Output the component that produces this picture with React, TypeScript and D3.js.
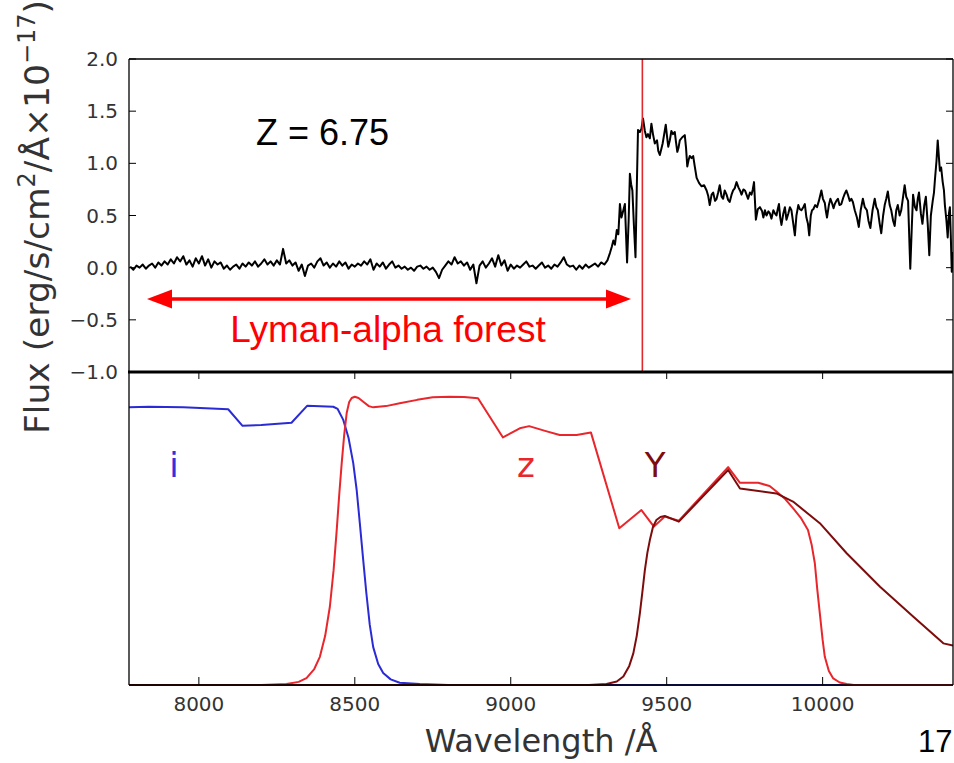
import React from "react";
import * as d3 from "d3";

// ---------- DATA ----------
const xDomain = [7776, 10418];
const fluxTicks = [2.0, 1.5, 1.0, 0.5, 0.0, -0.5, -1.0];
const waveTicks = [8000, 8500, 9000, 9500, 10000];

// Lyman-alpha forest region: regular grid from 7780 Å, 10 Å step
const forestStart = 7780;
const forestStep = 10;
const forestFlux = [
  0.01, -0.02, 0.02, 0.0, 0.03, -0.01, 0.02, 0.04, 0.0, 0.05,
  0.02, 0.06, 0.03, 0.08, 0.04, 0.1, 0.06, 0.11, 0.03, 0.07,
  0.01, 0.09, 0.04, 0.11, 0.02, 0.08, 0.0, 0.06, 0.03, 0.05,
  -0.01, 0.02, -0.02, 0.01, 0.03, -0.01, 0.04, 0.01, 0.05, 0.02,
  0.06, 0.01, 0.04, 0.08, 0.03, 0.06, 0.02, 0.07, 0.03, 0.18,
  0.04, 0.07, 0.02, 0.05, -0.03, 0.03, -0.08, 0.02, 0.04, 0.0,
  0.06, 0.09, 0.02, 0.05, 0.0, 0.04, 0.01, 0.06, 0.02, 0.05,
  -0.01, 0.03, 0.01, 0.04, 0.02, 0.06, 0.03, 0.08, -0.02, 0.04,
  0.01, 0.05, -0.01, 0.03, 0.06, 0.0, 0.02, -0.01, 0.01, -0.02,
  0.0, -0.03, 0.01, 0.02, -0.01, 0.01, -0.02, 0.0, -0.04, -0.1,
  -0.02, 0.02, 0.06, 0.03, 0.1, 0.04, 0.06, 0.02, 0.05, -0.02,
  0.03, -0.15, 0.02, 0.06, 0.0, 0.04, 0.09, 0.01, 0.12, 0.02,
  0.07, -0.03, 0.03, -0.01, 0.02, 0.0, 0.03, 0.06, 0.01, 0.02,
  -0.01, 0.02, 0.05, 0.0, 0.02, -0.01, 0.03, 0.01, 0.05, 0.1,
  0.03, 0.01, 0.02, -0.02, 0.02, -0.01, 0.03, 0.0, 0.02, 0.04,
  0.01, 0.05, 0.03, 0.07,
];

// Red side of the break: [wavelength, flux]
const redSpectrum: [number, number][] = [
  [9318, 0.14], [9324, 0.2], [9329, 0.26], [9334, 0.22], [9340, 0.36], [9345, 0.32],
  [9350, 0.61], [9355, 0.48], [9361, 0.55], [9366, 0.61], [9373, 0.05], [9378, 0.45],
  [9382, 0.9], [9386, 0.8], [9390, 0.74], [9395, 0.4], [9400, 0.1], [9404, 0.75],
  [9408, 1.32], [9414, 1.3], [9419, 1.33], [9424, 1.43], [9430, 1.31], [9435, 1.25],
  [9440, 1.28], [9446, 1.24], [9451, 1.38], [9456, 1.28], [9462, 1.19], [9469, 1.22],
  [9473, 1.12], [9478, 1.08], [9483, 1.14], [9487, 1.19], [9492, 1.28], [9497, 1.37],
  [9501, 1.26], [9505, 1.16], [9510, 1.22], [9515, 1.31], [9520, 1.28], [9526, 1.3],
  [9530, 1.2], [9534, 1.11], [9538, 1.15], [9542, 1.22], [9550, 1.25], [9558, 1.27],
  [9562, 1.15], [9566, 0.97], [9570, 1.03], [9574, 1.07], [9580, 1.05], [9585, 1.07],
  [9590, 0.97], [9596, 0.86], [9604, 0.81], [9612, 0.78], [9620, 0.79], [9628, 0.74],
  [9633, 0.69], [9638, 0.6], [9644, 0.7], [9649, 0.72], [9655, 0.64], [9660, 0.66],
  [9665, 0.72], [9670, 0.79], [9676, 0.68], [9681, 0.66], [9686, 0.74], [9692, 0.7],
  [9697, 0.65], [9702, 0.63], [9708, 0.7], [9713, 0.74], [9718, 0.76], [9724, 0.82],
  [9730, 0.77], [9735, 0.74], [9740, 0.7], [9746, 0.75], [9751, 0.74], [9756, 0.7],
  [9761, 0.66], [9767, 0.72], [9772, 0.7], [9776, 0.75], [9780, 0.82], [9786, 0.46],
  [9792, 0.56], [9799, 0.58], [9806, 0.54], [9810, 0.48], [9815, 0.55], [9820, 0.5],
  [9826, 0.54], [9831, 0.52], [9836, 0.47], [9842, 0.55], [9847, 0.52], [9852, 0.5],
  [9856, 0.56], [9860, 0.61], [9864, 0.48], [9868, 0.41], [9874, 0.52], [9879, 0.58],
  [9884, 0.46], [9890, 0.52], [9895, 0.58], [9900, 0.55], [9906, 0.42], [9911, 0.31],
  [9916, 0.5], [9922, 0.6], [9927, 0.56], [9932, 0.55], [9938, 0.58], [9943, 0.61],
  [9948, 0.48], [9953, 0.42], [9957, 0.31], [9962, 0.5], [9966, 0.55], [9970, 0.56],
  [9976, 0.6], [9982, 0.58], [9988, 0.64], [9996, 0.74], [10001, 0.66], [10007, 0.62],
  [10010, 0.55], [10014, 0.48], [10020, 0.6], [10025, 0.66], [10030, 0.62], [10035, 0.57],
  [10039, 0.61], [10044, 0.64], [10049, 0.66], [10054, 0.6], [10060, 0.61], [10066, 0.67],
  [10071, 0.71], [10076, 0.74], [10082, 0.69], [10087, 0.64], [10092, 0.66], [10097, 0.63],
  [10103, 0.55], [10110, 0.48], [10116, 0.39], [10122, 0.55], [10129, 0.66], [10135, 0.58],
  [10142, 0.55], [10147, 0.45], [10153, 0.38], [10160, 0.55], [10167, 0.66], [10172, 0.58],
  [10177, 0.55], [10183, 0.42], [10188, 0.33], [10194, 0.5], [10199, 0.6], [10204, 0.66],
  [10209, 0.73], [10215, 0.6], [10220, 0.55], [10226, 0.45], [10231, 0.4], [10236, 0.55],
  [10241, 0.6], [10247, 0.5], [10252, 0.55], [10258, 0.68], [10263, 0.79], [10268, 0.68],
  [10274, 0.64], [10281, -0.01], [10286, 0.4], [10290, 0.7], [10296, 0.58], [10301, 0.55],
  [10305, 0.66], [10309, 0.72], [10315, 0.52], [10320, 0.42], [10326, 0.6], [10331, 0.68],
  [10337, 0.42], [10342, 0.12], [10347, 0.5], [10353, 0.64], [10357, 0.72], [10360, 0.84],
  [10365, 1.02], [10369, 1.22], [10373, 1.05], [10376, 0.93], [10380, 0.96], [10385, 0.82],
  [10389, 0.74], [10392, 0.6], [10397, 0.45], [10401, 0.29], [10405, 0.52], [10408, 0.58],
  [10411, 0.3], [10414, -0.04], [10418, 0.15],
];

const lyaWave = 9422;

// Filter transmission curves: [wavelength, transmission]
const iFilter: [number, number][] = [
  [7776, 0.887], [7840, 0.889], [7950, 0.887], [8094, 0.881], [8140, 0.828], [8200, 0.831],
  [8297, 0.838], [8347, 0.892], [8431, 0.889], [8445, 0.882], [8463, 0.847], [8480, 0.789],
  [8495, 0.709], [8506, 0.623], [8516, 0.518], [8527, 0.399], [8537, 0.294], [8548, 0.192],
  [8559, 0.121], [8575, 0.067], [8591, 0.038], [8615, 0.018], [8644, 0.007], [8708, 0.003],
  [8800, 0], [10418, 0],
];

const zFilter: [number, number][] = [
  [7776, 0], [8200, 0], [8281, 0.003], [8320, 0.01], [8345, 0.022], [8370, 0.051], [8388, 0.09],
  [8405, 0.157], [8420, 0.25], [8432, 0.367], [8442, 0.495], [8450, 0.607], [8458, 0.709],
  [8466, 0.799], [8474, 0.869], [8482, 0.904], [8490, 0.917], [8500, 0.921], [8512, 0.917],
  [8527, 0.905], [8545, 0.891], [8559, 0.887], [8600, 0.891], [8644, 0.9], [8700, 0.911],
  [8750, 0.919], [8804, 0.921], [8850, 0.92], [8895, 0.916], [8975, 0.791], [9029, 0.82],
  [9059, 0.827], [9110, 0.812], [9157, 0.799], [9211, 0.799], [9257, 0.807], [9348, 0.501],
  [9419, 0.559], [9459, 0.506], [9494, 0.538], [9539, 0.525], [9697, 0.696], [9735, 0.646],
  [9793, 0.646], [9830, 0.636], [9852, 0.618], [9880, 0.594], [9905, 0.565], [9930, 0.534],
  [9953, 0.495], [9965, 0.447], [9975, 0.389], [9983, 0.304], [9991, 0.229], [10000, 0.144],
  [10007, 0.09], [10020, 0.045], [10034, 0.021], [10055, 0.008], [10077, 0.003], [10100, 0],
  [10418, 0],
];

const yFilter: [number, number][] = [
  [7776, 0], [9250, 0], [9307, 0.003], [9340, 0.011], [9361, 0.027], [9380, 0.061], [9393, 0.101],
  [9404, 0.157], [9414, 0.229], [9422, 0.297], [9430, 0.367], [9438, 0.422], [9446, 0.463],
  [9456, 0.505], [9467, 0.527], [9480, 0.537], [9494, 0.54], [9539, 0.522], [9697, 0.687],
  [9735, 0.628], [9852, 0.612], [9905, 0.586], [9991, 0.517], [10077, 0.421], [10184, 0.314],
  [10291, 0.218], [10387, 0.133], [10418, 0.126],
];

const filterLabels = [
  { text: "i", wave: 7905, color: "#3030dc" },
  { text: "z", wave: 9020, color: "#e8262c" },
  { text: "Y", wave: 9430, color: "#7d0c0c" },
];

// ---------- LAYOUT ----------
const W = 954;
const H = 763;
const left = 129;
const right = 953;
const topY = 59;
const midY = 372;
const botY = 685;

export default function App() {
  const x = d3.scaleLinear().domain(xDomain).range([left, right]);
  const yTop = d3.scaleLinear().domain([-1, 2]).range([midY, topY]);
  const yBot = d3.scaleLinear().domain([0, 1]).range([botY, midY]);

  const spectrum: [number, number][] = forestFlux
    .map((v, i) => [forestStart + i * forestStep, v] as [number, number])
    .concat(redSpectrum);

  const specLine = d3
    .line<[number, number]>()
    .x((d) => x(d[0]))
    .y((d) => yTop(d[1]));
  const filtLine = d3
    .line<[number, number]>()
    .x((d) => x(d[0]))
    .y((d) => yBot(d[1]));

  const tickFont = { fontFamily: "DejaVu Sans", fontSize: 20, fill: "#333" };
  const tickLen = 7;

  const arrowY = 299;
  const arrowL = 147;
  const arrowR = 631;
  const ah = 25;
  const aw = 9.5;

  return (
    <svg
      width={W}
      height={H}
      style={{ position: "absolute", left: 0, top: 0, background: "#fff" }}
    >
      <rect x={0} y={0} width={W} height={H} fill="#fff" />
      <defs>
        <clipPath id="clipTop">
          <rect x={left} y={topY} width={right - left} height={midY - topY} />
        </clipPath>
        <clipPath id="clipBot">
          <rect x={left} y={midY} width={right - left} height={botY - midY + 1} />
        </clipPath>
      </defs>

      {/* ---- top panel ---- */}
      <g clipPath="url(#clipTop)">
        <path d={specLine(spectrum) || ""} fill="none" stroke="#000" strokeWidth={2} strokeLinejoin="round" />
      </g>
      <line x1={x(lyaWave)} x2={x(lyaWave)} y1={topY} y2={midY} stroke="#e0282e" strokeWidth={1.6} />

      {fluxTicks.map((t) => (
        <g key={"yt" + t}>
          <line x1={left} x2={left + tickLen} y1={yTop(t)} y2={yTop(t)} stroke="#000" strokeWidth={1} />
          <line x1={right - tickLen} x2={right} y1={yTop(t)} y2={yTop(t)} stroke="#000" strokeWidth={1} />
          <text x={118} y={yTop(t)} textAnchor="end" dominantBaseline="central" {...tickFont}>
            {t < 0 ? "\u2212" + Math.abs(t).toFixed(1) : t.toFixed(1)}
          </text>
        </g>
      ))}

      <text x={256} y={145} fontFamily="Liberation Sans, Arial" fontSize={36} fill="#000">
        Z = 6.75
      </text>

      {/* arrow */}
      <line x1={arrowL + ah - 2} x2={arrowR - ah + 2} y1={arrowY} y2={arrowY} stroke="#ff0000" strokeWidth={3.5} />
      <path d={`M${arrowL},${arrowY} L${arrowL + ah},${arrowY - aw} L${arrowL + ah},${arrowY + aw} Z`} fill="#ff0000" />
      <path d={`M${arrowR},${arrowY} L${arrowR - ah},${arrowY - aw} L${arrowR - ah},${arrowY + aw} Z`} fill="#ff0000" />
      <text x={388} y={342} textAnchor="middle" fontFamily="Liberation Sans, Arial" fontSize={37} fill="#ff0000">
        Lyman-alpha forest
      </text>

      {/* ---- bottom panel ---- */}
      <g clipPath="url(#clipBot)">
        <path d={filtLine(iFilter) || ""} fill="none" stroke="#2b2bd6" strokeWidth={2} strokeLinejoin="round" />
        <path d={filtLine(zFilter) || ""} fill="none" stroke="#e8262c" strokeWidth={2} strokeLinejoin="round" />
        <path d={filtLine(yFilter) || ""} fill="none" stroke="#7d0c0c" strokeWidth={2} strokeLinejoin="round" />
      </g>

      {filterLabels.map((l) => (
        <text key={l.text} x={x(l.wave)} y={477} fontFamily="DejaVu Sans" fontSize={34} fill={l.color}>
          {l.text}
        </text>
      ))}

      {waveTicks.map((t) => (
        <g key={"xt" + t}>
          <line x1={x(t)} x2={x(t)} y1={botY} y2={botY - tickLen - 1} stroke="#000" strokeWidth={1} />
          <line x1={x(t)} x2={x(t)} y1={midY} y2={midY + tickLen} stroke="#000" strokeWidth={1} />
          <text x={x(t)} y={711} textAnchor="middle" {...tickFont}>
            {t}
          </text>
        </g>
      ))}

      {/* spines */}
      <line x1={left} x2={right} y1={topY} y2={topY} stroke="#000" strokeWidth={1.3} />
      <line x1={left} x2={right} y1={botY} y2={botY} stroke="#000" strokeWidth={1.5} />
      <line x1={left} x2={left} y1={topY} y2={botY} stroke="#000" strokeWidth={1.3} />
      <line x1={right} x2={right} y1={topY} y2={botY} stroke="#000" strokeWidth={1.3} />
      <line x1={left - 1} x2={right} y1={midY} y2={midY} stroke="#000" strokeWidth={2.8} />

      {/* axis labels */}
      <text
        transform={`translate(49, 217) rotate(-90)`}
        textAnchor="middle"
        fontFamily="DejaVu Sans"
        fontSize={34.5}
        fill="#333"
      >
        Flux (erg/s/cm
        <tspan dy={-14} fontSize={24}>2</tspan>
        <tspan dy={14}>/Å×10</tspan>
        <tspan dy={-14} fontSize={24}>−17</tspan>
        <tspan dy={14}>)</tspan>
      </text>
      <text x={(left + right) / 2} y={752} textAnchor="middle" fontFamily="DejaVu Sans" fontSize={32} fill="#333">
        Wavelength /Å
      </text>

      <text x={918} y={752} fontFamily="Liberation Sans, Arial" fontSize={31} fill="#000">
        17
      </text>
    </svg>
  );
}
